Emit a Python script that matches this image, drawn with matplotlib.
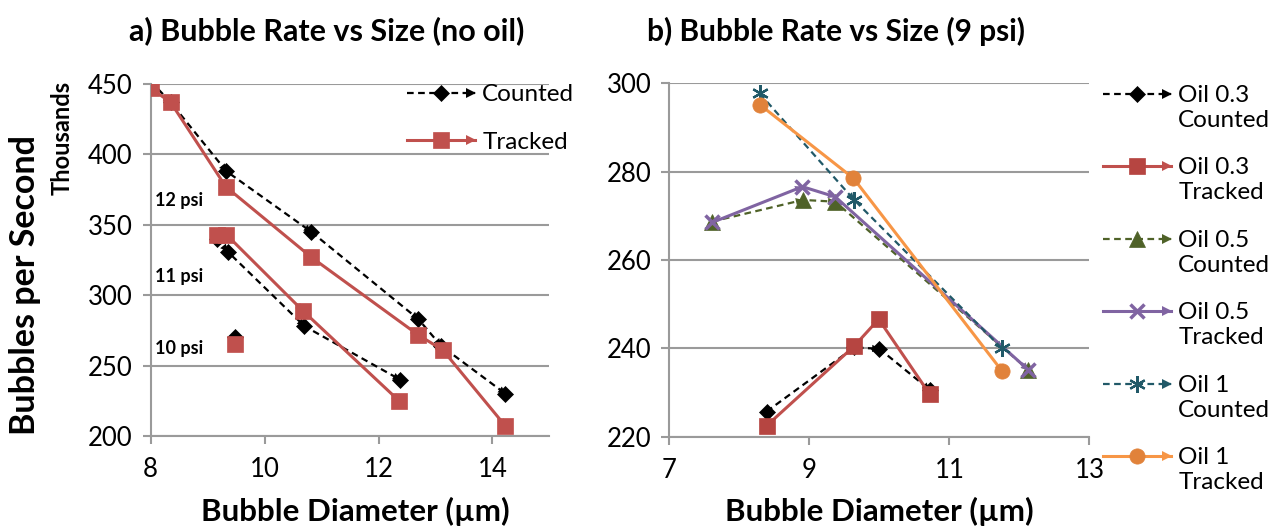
import matplotlib
matplotlib.use("Agg")
from matplotlib import pyplot as plt
from matplotlib.lines import Line2D
from matplotlib.legend_handler import HandlerLine2D

plt.rcParams['font.family'] = ['Lato', 'DejaVu Sans']

# a) bubble rate vs size, no oil (thousands of bubbles per second)
psi12_counted_x = [8.0, 8.35, 9.33, 10.82, 12.70, 13.10, 14.23]
psi12_counted_y = [452, 437, 388, 345, 283, 264, 230]
psi12_tracked_x = [8.0, 8.35, 9.32, 10.82, 12.69, 13.13, 14.23]
psi12_tracked_y = [447, 437, 377, 327, 272, 261, 207]
psi11_counted_x = [9.17, 9.35, 10.70, 12.38]
psi11_counted_y = [340, 331, 278, 240]
psi11_tracked_x = [9.16, 9.33, 10.67, 12.36]
psi11_tracked_y = [343, 343, 289, 225]
psi10_x = [9.48]
psi10_counted_y = [270]
psi10_tracked_y = [265]

# b) bubble rate vs size at 9 psi, by oil fraction
oil03_counted_x = [8.39, 9.64, 10.00, 10.72]
oil03_counted_y = [225.7, 240.2, 239.9, 230.6]
oil03_tracked_x = [8.39, 9.64, 9.99, 10.72]
oil03_tracked_y = [222.5, 240.5, 246.6, 229.6]
oil05_counted_x = [7.61, 8.91, 9.37, 12.13]
oil05_counted_y = [268.7, 273.6, 273.2, 235.1]
oil05_tracked_x = [7.61, 8.90, 9.37, 12.13]
oil05_tracked_y = [268.5, 276.6, 274.3, 235.1]
oil1_counted_x = [8.29, 9.64, 11.75]
oil1_counted_y = [297.7, 273.6, 240.0]
oil1_tracked_x = [8.29, 9.63, 11.75]
oil1_tracked_y = [295.2, 278.5, 234.9]

GRID = '#9a9a9a'


# excel style: every segment ends in a small arrow head
def arrows(ax, xs, ys, color, scale=13):
	for i in range(len(xs) - 1):
		ax.annotate('', xy=(xs[i + 1], ys[i + 1]), xytext=(xs[i], ys[i]), zorder=3,
			arrowprops=dict(arrowstyle='-|>', color=color, lw=0, shrinkA=0, shrinkB=0, mutation_scale=scale))


def series(ax, xs, ys, color, mcolor, marker, ls, lw, ms, label=None, mew=0.5):
	ax.plot(xs, ys, color=color, ls=ls, lw=lw, marker=marker, ms=ms, mfc=mcolor, mec=mcolor,
		mew=mew, zorder=4, label=label)
	arrows(ax, xs, ys, color)


# legend line with an arrow head at its end, optionally raised to the first text line
class ArrowLine(HandlerLine2D):
	def __init__(self, shift=0, **kw):
		super().__init__(**kw)
		self.shift = shift

	def create_artists(self, legend, orig_handle, xdescent, ydescent, width, height, fontsize, trans):
		artists = super().create_artists(legend, orig_handle, xdescent, ydescent, width, height, fontsize, trans)
		for a in artists:
			a.set_ydata([v + self.shift for v in a.get_ydata()])
		y = (height - ydescent) / 2 + self.shift
		head = Line2D([width - xdescent - 3], [y], marker='>', ms=7, mew=0, ls='none', color=orig_handle.get_color())
		head.set_transform(trans)
		return artists + [head]


def style(ax):
	ax.grid(axis='y', color=GRID, lw=1.5)
	ax.set_axisbelow(True)
	for s in ['top', 'right']:
		ax.spines[s].set_visible(False)
	for s in ['left', 'bottom']:
		ax.spines[s].set_color(GRID)
		ax.spines[s].set_linewidth(1.5)
	ax.tick_params(colors=GRID, labelcolor='black', labelsize=18.5, width=1.5, length=6)
	ax.tick_params(axis='x', pad=9)
	ax.tick_params(axis='y', pad=7)


fig = plt.figure(figsize=(12.74, 5.29), dpi=100)
ax1 = fig.add_axes([0.1183, 0.1758, 0.3129, 0.6654])
ax2 = fig.add_axes([0.5254, 0.1745, 0.3297, 0.6680])

# ---- panel a
series(ax1, psi12_counted_x, psi12_counted_y, 'black', 'black', 'D', (0, (3, 2)), 1.6, 8, 'Counted')
series(ax1, psi12_tracked_x, psi12_tracked_y, '#c0504d', '#c0504d', 's', '-', 2.2, 11, 'Tracked')
series(ax1, psi11_counted_x, psi11_counted_y, 'black', 'black', 'D', (0, (3, 2)), 1.6, 8)
series(ax1, psi11_tracked_x, psi11_tracked_y, '#c0504d', '#c0504d', 's', '-', 2.2, 11)
series(ax1, psi10_x, psi10_counted_y, 'black', 'black', 'D', (0, (3, 2)), 1.6, 8)
series(ax1, psi10_x, psi10_tracked_y, '#c0504d', '#c0504d', 's', '-', 2.2, 11)

ax1.set_xlim(8, 15)
ax1.set_ylim(200, 450)
ax1.set_xticks([8, 10, 12, 14])
ax1.set_yticks([200, 250, 300, 350, 400, 450])
style(ax1)
for label, y in [('12 psi', 367), ('11 psi', 313), ('10 psi', 262)]:
	ax1.text(8.07, y, label, fontsize=13, fontweight='bold', va='center', ha='left')

leg1 = ax1.legend(loc='upper left', bbox_to_anchor=(407 / 1274, 1 - 84 / 529), bbox_transform=fig.transFigure,
	frameon=False, fontsize=17.5, handlelength=2.8, handletextpad=0.3, labelspacing=1.1,
	borderpad=0, borderaxespad=0, handler_map={Line2D: ArrowLine()})

# ---- panel b
series(ax2, oil03_counted_x, oil03_counted_y, 'black', 'black', 'D', (0, (3, 2)), 1.6, 8, 'Oil 0.3\nCounted')
series(ax2, oil03_tracked_x, oil03_tracked_y, '#c0504d', '#b64541', 's', '-', 2.2, 11, 'Oil 0.3\nTracked')
series(ax2, oil05_counted_x, oil05_counted_y, '#4f6228', '#4f6228', '^', (0, (3, 2)), 1.6, 11, 'Oil 0.5\nCounted')
series(ax2, oil05_tracked_x, oil05_tracked_y, '#8064a2', '#8064a2', 'x', '-', 2.2, 10, 'Oil 0.5\nTracked', mew=2.5)
series(ax2, oil1_counted_x, oil1_counted_y, '#215968', '#215968', (6, 2, 0), (0, (3, 2)), 1.6, 12, 'Oil 1\nCounted', mew=1.6)
series(ax2, oil1_tracked_x, oil1_tracked_y, '#f79646', '#e1823a', 'o', '-', 2.2, 11, 'Oil 1\nTracked')

ax2.set_xlim(7, 13)
ax2.set_ylim(220, 300)
ax2.set_xticks([7, 9, 11, 13])
ax2.set_yticks([220, 240, 260, 280, 300])
style(ax2)

leg2 = ax2.legend(loc='upper left', bbox_to_anchor=(1103 / 1274, 1 - 85 / 529), bbox_transform=fig.transFigure,
	frameon=False, fontsize=17.5, handlelength=2.8, handletextpad=0.3, labelspacing=1.1,
	borderpad=0, borderaxespad=0, handler_map={Line2D: ArrowLine(shift=10)})
for t in leg2.get_texts():
	t.set_linespacing(1.22)

# titles and axis labels
fig.text(327 / 1274, 1 - 31 / 529, 'a) Bubble Rate vs Size (no oil)', fontsize=22, fontweight='bold', ha='center', va='center')
fig.text(836 / 1274, 1 - 31 / 529, 'b) Bubble Rate vs Size (9 psi)', fontsize=21.5, fontweight='bold', ha='center', va='center')
fig.text(355 / 1274, 1 - 511 / 529, 'Bubble Diameter (µm)', fontsize=22.5, fontweight='bold', ha='center', va='center')
fig.text(879 / 1274, 1 - 511 / 529, 'Bubble Diameter (µm)', fontsize=22.5, fontweight='bold', ha='center', va='center')
fig.text(25 / 1274, 1 - 285 / 529, 'Bubbles per Second', fontsize=24.5, fontweight='bold', ha='center', va='center', rotation=90)
fig.text(62 / 1274, 1 - 138 / 529, 'Thousands', fontsize=17, fontweight='bold', ha='center', va='center', rotation=90)

plt.savefig('out.png', dpi=100)
